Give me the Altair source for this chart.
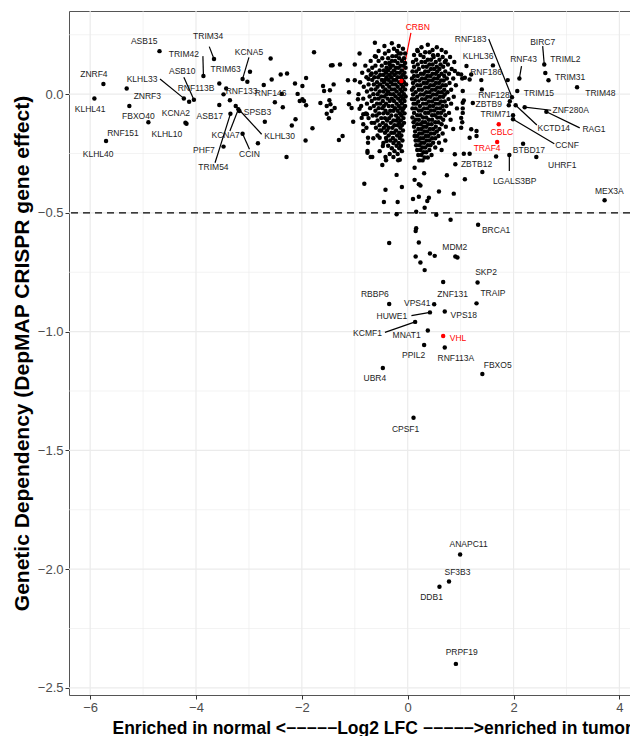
import altair as alt
import pandas as pd

# ---------------- data ----------------
GENE_NAMES = [
    "ZNRF4", "KLHL41", "ZNRF3", "FBXO40", "RNF151",
    "KLHL40", "ASB15", "TRIM34", "TRIM42", "KCNA5",
    "TRIM63", "ASB10", "KLHL33", "RNF113B", "KCNA2",
    "KLHL10", "RNF133", "RNF146", "ASB17", "SPSB3",
    "KLHL30", "KCNA7", "PHF7", "TRIM54", "CCIN",
    "CRBN", "RNF183", "KLHL36", "RNF186", "RNF43",
    "BIRC7", "TRIML2", "TRIM31", "TRIM48", "TRIM15",
    "RNF128", "ZBTB9", "TRIM71", "KCTD14", "CCNF",
    "ZNF280A", "RAG1", "CBLC", "TRAF4", "BTBD17",
    "UHRF1", "LGALS3BP", "ZBTB12", "MEX3A", "BRCA1",
    "MDM2", "SKP2", "ZNF131", "TRAIP", "RBBP6",
    "VPS41", "VPS18", "HUWE1", "KCMF1", "MNAT1",
    "VHL", "PPIL2", "RNF113A", "FBXO5", "UBR4",
    "CPSF1", "ANAPC11", "SF3B3", "DDB1", "PRPF19",
]
GENE_X = [
    -5.75, -5.92, -5.31, -5.26, -4.90,
    -5.70, -4.69, -3.66, -3.86, -3.12,
    -2.98, -4.04, -4.23, -4.13, -4.18,
    -4.20, -3.43, -2.38, -3.56, -3.18,
    -3.25, -3.20, -3.48, -3.35, -3.12,
    -0.12, 1.97, 1.61, 1.39, 2.11,
    2.58, 2.60, 2.66, 3.20, 2.07,
    1.93, 1.91, 1.99, 2.04, 1.99,
    2.21, 2.62, 1.72, 1.69, 2.18,
    2.43, 1.92, 0.90, 3.72, 1.33,
    0.90, 1.32, 0.67, 1.30, -0.35,
    0.50, 0.70, 0.42, 0.14, 0.38,
    0.67, 0.31, 0.70, 1.41, -0.47,
    0.11, 0.99, 0.78, 0.60, 0.91,
]
GENE_Y = [
    0.043, -0.018, 0.024, -0.050, -0.118,
    -0.197, 0.181, 0.148, 0.076, 0.064,
    0.094, -0.024, -0.018, -0.032, -0.125,
    -0.120, 0.024, 0.001, -0.046, -0.071,
    -0.050, -0.064, -0.221, -0.083, -0.167,
    0.055, -0.013, 0.121, 0.059, 0.066,
    0.125, 0.089, 0.058, 0.029, 0.013,
    -0.030, -0.047, -0.089, -0.047, -0.106,
    -0.055, -0.074, -0.127, -0.202, -0.209,
    -0.265, -0.256, -0.295, -0.447, -0.550,
    -0.684, -0.793, -0.791, -0.881, -0.884,
    -0.885, -0.915, -0.919, -0.959, -0.995,
    -1.018, -1.056, -1.067, -1.178, -1.153,
    -1.363, -1.938, -2.052, -2.074, -2.399,
]
LABEL_X = [
    -5.93, -6.00, -4.92, -5.09, -5.38,
    -5.85, -4.98, -3.77, -4.23, -3.00,
    -3.44, -4.26, -5.02, -4.00, -4.38,
    -4.55, -3.14, -2.59, -3.74, -2.84,
    -2.42, -3.44, -3.85, -3.67, -2.99,
    0.19, 1.19, 1.33, 1.48, 2.19,
    2.55, 2.98, 3.07, 3.64, 2.48,
    1.63, 1.53, 1.66, 2.76, 3.01,
    3.08, 3.52, 1.78, 1.50, 2.29,
    2.92, 2.02, 1.30, 3.81, 1.67,
    0.89, 1.48, 0.85, 1.61, -0.62,
    0.18, 1.06, -0.30, -0.76, -0.02,
    0.95, 0.11, 0.91, 1.70, -0.62,
    -0.04, 1.15, 0.94, 0.45, 1.02,
]
LABEL_Y = [
    0.084, -0.063, -0.008, -0.092, -0.163,
    -0.251, 0.223, 0.244, 0.171, 0.178,
    0.104, 0.097, 0.064, 0.024, -0.079,
    -0.169, 0.013, 0.005, -0.092, -0.076,
    -0.175, -0.172, -0.235, -0.305, -0.253,
    0.282, 0.232, 0.160, 0.092, 0.150,
    0.220, 0.150, 0.074, 0.005, 0.003,
    -0.004, -0.043, -0.085, -0.142, -0.216,
    -0.068, -0.146, -0.158, -0.226, -0.235,
    -0.298, -0.366, -0.295, -0.408, -0.573,
    -0.643, -0.751, -0.842, -0.837, -0.842,
    -0.881, -0.930, -0.933, -1.006, -1.013,
    -1.027, -1.100, -1.112, -1.140, -1.196,
    -1.409, -1.896, -2.011, -2.116, -2.349,
]
RED_GENES = ["CRBN", "CBLC", "TRAF4", "VHL"]

# label connector segments: start point (near label) -> gene point
SEG_GENES = ["TRIM34", "TRIM42", "KCNA5", "ASB10", "KLHL33", "KLHL30", "KCNA7",
             "TRIM54", "CCIN", "CRBN", "RNF183", "RNF43", "BIRC7", "KCTD14",
             "CCNF", "ZNF280A", "RAG1", "LGALS3BP", "HUWE1", "KCMF1"]
SEG_X = [-3.75, -3.87, -3.00, -4.23, -4.68, -2.76, -3.36,
         -3.64, -2.99, 0.06, 1.53, 2.15, 2.55, 2.44,
         2.77, 2.71, 3.25, 1.92, 0.07, -0.43]
SEG_Y = [0.200, 0.160, 0.155, 0.071, 0.064, -0.169, -0.155,
         -0.289, -0.232, 0.258, 0.232, 0.118, 0.202, -0.130,
         -0.209, -0.068, -0.142, -0.324, -0.933, -1.003]

# unlabelled scattered genes (x, y)
SCATTER_POINTS = [
    (-2.59, 0.150), (-1.77, 0.176), (-1.45, 0.121), (-1.28, 0.125), (-1.00, 0.125),
    (-0.91, 0.171), (-0.60, 0.157), (-0.62, 0.216), (-2.40, 0.083), (-2.28, 0.087),
    (-1.92, 0.068), (-2.13, 0.045), (-1.99, 0.034), (-1.60, 0.034), (-1.40, 0.041),
    (-1.13, 0.058), (-1.47, 0.016), (-1.58, 0.013), (-2.08, 0.001), (-1.99, -0.022),
    (-1.96, -0.029), (-2.04, -0.029), (-1.92, -0.047), (-1.65, -0.037), (-1.48, -0.026),
    (-1.46, -0.043), (-1.53, -0.050), (-1.38, -0.058), (-1.44, -0.071), (-1.53, -0.083),
    (-1.49, -0.102), (-1.11, 0.008), (-1.11, -0.043), (-1.06, -0.058), (-0.94, -0.022),
    (-0.91, -0.062), (-0.84, -0.085), (-1.03, -0.116), (-0.77, -0.085), (-0.84, -0.127),
    (-0.78, -0.142), (-0.75, -0.184), (-0.75, -0.205), (-0.65, -0.186), (-0.76, -0.239),
    (-0.70, -0.265), (-1.80, -0.144), (-1.93, -0.195), (-2.19, -0.132), (-2.12, -0.106),
    (-1.30, -0.193), (-1.23, -0.176), (-2.29, -0.265), (-2.51, -0.034), (-2.36, -0.055),
    (-2.70, -0.116), (-2.57, 0.062), (-2.72, 0.038), (-2.83, -0.207), (-3.56, 0.045),
    (-3.48, -0.001), (-3.36, -0.026), (-3.03, 0.052), (-1.42, 0.122), (-1.00, 0.058),
    (-0.68, 0.087), (-0.74, 0.064), (-0.87, -0.100), (-0.84, -0.155), (-0.68, -0.121),
    (-0.53, -0.153), (-0.53, -0.184), (-0.40, -0.197), (-0.47, -0.218), (-0.34, 0.125),
    (-0.17, 0.171), (-0.82, -0.377), (-0.42, -0.403), (-0.11, -0.391), (-0.45, -0.454),
    (-0.19, -0.454), (-0.21, -0.340), (-0.48, -0.298), (-0.15, -0.276), (-0.42, -0.265),
    (-0.67, -0.265), (-0.76, -0.247), (-0.21, -0.506), (-0.35, -0.627), (0.13, -0.310),
    (0.31, -0.333), (0.13, -0.361), (0.21, -0.379), (0.24, -0.385), (0.59, -0.410),
    (0.87, -0.419), (0.21, -0.432), (0.10, -0.442), (0.40, -0.436), (0.37, -0.450),
    (0.32, -0.478), (0.74, -0.342), (1.08, -0.358), (1.41, -0.328), (0.89, -0.253),
    (1.06, -0.251), (1.17, -0.251), (1.67, -0.263), (0.16, -0.495), (0.54, -0.508),
    (0.81, -0.529), (0.15, -0.576), (0.16, -0.565), (0.21, -0.625), (0.15, -0.684),
    (0.42, -0.671), (0.51, -0.681), (0.24, -0.709), (0.32, -0.741), (0.94, -0.688),
    (0.19, 0.181), (0.48, 0.164), (0.72, 0.142), (0.89, 0.097), (1.01, 0.083),
    (1.08, 0.069), (1.20, 0.083), (1.17, 0.062), (1.04, 0.013), (1.04, -0.036),
    (1.04, -0.060), (1.01, -0.100), (1.01, -0.142), (1.20, -0.148), (1.30, -0.155),
    (1.11, 0.118), (1.03, 0.066), (1.40, 0.020), (1.23, -0.037), (1.04, -0.079),
    (1.03, -0.118), (1.17, -0.184), (1.30, -0.176), (1.89, 0.059), (1.06, -0.027),
]

# dense cores of near-zero genes: rows of (y, [x values])
LEFT_CORE_ROWS = [
    (0.214, [-0.30]),
    (0.203, [-0.44, -0.17]),
    (0.191, [-0.26, -0.09]),
    (0.182, [-0.55, -0.36, -0.20]),
    (0.171, [-0.43, -0.13, -0.05]),
    (0.160, [-0.62, -0.29, -0.22]),
    (0.151, [-0.48, -0.37, -0.16, -0.07]),
    (0.140, [-0.70, -0.55, -0.30, -0.24, -0.11]),
    (0.131, [-0.42, -0.35, -0.19, -0.05]),
    (0.120, [-0.80, -0.61, -0.49, -0.28, -0.13, -0.08]),
    (0.111, [-0.67, -0.40, -0.33, -0.22, -0.17, -0.04]),
    (0.100, [-0.74, -0.53, -0.45, -0.37, -0.26, -0.11]),
    (0.090, [-0.86, -0.60, -0.41, -0.30, -0.21, -0.15, -0.06]),
    (0.081, [-0.70, -0.52, -0.46, -0.35, -0.25, -0.09]),
    (0.071, [-0.78, -0.63, -0.56, -0.40, -0.31, -0.19, -0.13, -0.04]),
    (0.060, [-0.67, -0.49, -0.43, -0.36, -0.27, -0.22, -0.10]),
    (0.050, [-0.90, -0.58, -0.45, -0.32, -0.16, -0.07]),
    (0.041, [-0.74, -0.64, -0.52, -0.39, -0.28, -0.23, -0.12, -0.03]),
    (0.031, [-0.83, -0.57, -0.47, -0.35, -0.19, -0.09]),
    (0.020, [-0.69, -0.61, -0.42, -0.30, -0.25, -0.14, -0.05]),
    (0.011, [-0.77, -0.53, -0.46, -0.37, -0.21, -0.11]),
    (0.000, [-0.93, -0.65, -0.57, -0.40, -0.33, -0.27, -0.16, -0.07]),
    (-0.010, [-0.72, -0.50, -0.44, -0.23, -0.12, -0.04]),
    (-0.019, [-0.84, -0.62, -0.55, -0.38, -0.30, -0.18, -0.09]),
    (-0.029, [-0.68, -0.47, -0.34, -0.26, -0.14, -0.06]),
    (-0.040, [-0.77, -0.58, -0.52, -0.41, -0.21, -0.11]),
    (-0.050, [-0.88, -0.64, -0.45, -0.36, -0.29, -0.17, -0.05]),
    (-0.059, [-0.71, -0.55, -0.48, -0.24, -0.13, -0.08]),
    (-0.070, [-0.61, -0.42, -0.33, -0.27, -0.19, -0.10]),
    (-0.081, [-0.79, -0.54, -0.46, -0.38, -0.15, -0.06]),
    (-0.090, [-0.66, -0.59, -0.31, -0.22, -0.12]),
    (-0.101, [-0.74, -0.50, -0.43, -0.35, -0.18, -0.08]),
    (-0.111, [-0.57, -0.39, -0.27, -0.21, -0.13]),
    (-0.121, [-0.63, -0.47, -0.32, -0.16, -0.07]),
    (-0.131, [-0.53, -0.41, -0.25, -0.19, -0.11]),
    (-0.142, [-0.60, -0.45, -0.36, -0.29, -0.14]),
    (-0.153, [-0.50, -0.39, -0.22, -0.09]),
    (-0.163, [-0.43, -0.31, -0.26, -0.16]),
    (-0.174, [-0.57, -0.36, -0.20, -0.12]),
    (-0.185, [-0.41, -0.28, -0.15]),
    (-0.195, [-0.33, -0.23, -0.10]),
    (-0.206, [-0.46, -0.27, -0.17]),
    (-0.217, [-0.37, -0.21, -0.13]),
    (-0.228, [-0.30, -0.16]),
    (-0.240, [-0.53, -0.25, -0.11]),
    (-0.252, [-0.34, -0.19]),
    (-0.265, [-0.27]),
    (-0.278, [-0.41, -0.18]),
]
RIGHT_CORE_ROWS = [
    (0.208, [0.38]),
    (0.197, [0.26, 0.55]),
    (0.186, [0.18, 0.47, 0.64]),
    (0.176, [0.33, 0.41, 0.72]),
    (0.165, [0.12, 0.24, 0.57]),
    (0.156, [0.30, 0.49, 0.66, 0.80]),
    (0.145, [0.16, 0.38, 0.44, 0.60]),
    (0.135, [0.10, 0.26, 0.33, 0.53, 0.70, 0.88]),
    (0.125, [0.19, 0.41, 0.47, 0.62, 0.76]),
    (0.115, [0.12, 0.29, 0.36, 0.55, 0.67]),
    (0.106, [0.21, 0.44, 0.50, 0.60, 0.83]),
    (0.095, [0.09, 0.16, 0.33, 0.39, 0.56, 0.71]),
    (0.086, [0.25, 0.30, 0.47, 0.53, 0.64, 0.78, 0.95]),
    (0.076, [0.12, 0.19, 0.37, 0.43, 0.59, 0.69]),
    (0.066, [0.08, 0.27, 0.33, 0.50, 0.56, 0.74, 0.86]),
    (0.057, [0.15, 0.22, 0.40, 0.46, 0.63, 0.68]),
    (0.047, [0.10, 0.30, 0.36, 0.53, 0.59, 0.79]),
    (0.037, [0.18, 0.24, 0.43, 0.49, 0.66, 0.72, 0.91]),
    (0.028, [0.11, 0.33, 0.39, 0.56, 0.61]),
    (0.018, [0.08, 0.21, 0.27, 0.46, 0.52, 0.69, 0.82]),
    (0.008, [0.15, 0.35, 0.41, 0.58, 0.64, 0.75]),
    (-0.002, [0.10, 0.24, 0.30, 0.48, 0.54, 0.70]),
    (-0.011, [0.18, 0.37, 0.43, 0.61, 0.67, 0.87]),
    (-0.021, [0.08, 0.13, 0.27, 0.33, 0.51, 0.56, 0.77]),
    (-0.031, [0.20, 0.40, 0.46, 0.63, 0.70]),
    (-0.040, [0.11, 0.16, 0.29, 0.35, 0.53, 0.59, 0.82]),
    (-0.050, [0.23, 0.42, 0.48, 0.66, 0.73]),
    (-0.060, [0.09, 0.15, 0.31, 0.37, 0.55, 0.61, 0.93]),
    (-0.069, [0.21, 0.26, 0.44, 0.50, 0.68]),
    (-0.079, [0.12, 0.33, 0.39, 0.57, 0.63, 0.78]),
    (-0.089, [0.18, 0.24, 0.46, 0.51, 0.71]),
    (-0.098, [0.09, 0.29, 0.35, 0.56, 0.62]),
    (-0.108, [0.15, 0.21, 0.40, 0.46, 0.67, 0.81]),
    (-0.118, [0.11, 0.28, 0.33, 0.52, 0.58]),
    (-0.127, [0.18, 0.24, 0.39, 0.45, 0.64]),
    (-0.137, [0.12, 0.30, 0.35, 0.53, 0.72]),
    (-0.147, [0.20, 0.26, 0.42, 0.48, 0.60, 0.86]),
    (-0.157, [0.14, 0.32, 0.37, 0.55]),
    (-0.166, [0.22, 0.27, 0.44, 0.50, 0.66]),
    (-0.176, [0.13, 0.18, 0.34, 0.39, 0.58]),
    (-0.186, [0.24, 0.29, 0.46, 0.52]),
    (-0.195, [0.15, 0.20, 0.36, 0.41, 0.71]),
    (-0.205, [0.26, 0.31, 0.48, 0.59]),
    (-0.215, [0.16, 0.22, 0.38, 0.43]),
    (-0.225, [0.28, 0.33, 0.52]),
    (-0.235, [0.18, 0.24, 0.41, 0.64]),
    (-0.245, [0.30, 0.35]),
    (-0.256, [0.20, 0.26, 0.45]),
    (-0.267, [0.32, 0.38]),
    (-0.279, [0.22, 0.28]),
]

X_MAJOR = [-6, -4, -2, 0, 2, 4]
X_MINOR = [-5, -3, -1, 1, 3]
Y_MAJOR = [0.0, -0.5, -1.0, -1.5, -2.0, -2.5]
Y_MINOR = [0.25, -0.25, -0.75, -1.25, -1.75, -2.25]
THRESHOLD = [-0.5]

X_TITLE = "Enriched in normal <\u2212\u2212\u2212\u2212\u2212Log2 LFC  \u2212\u2212\u2212\u2212\u2212>enriched in tumor"
Y_TITLE = "Genetic Dependency (DepMAP CRISPR gene effect)"

# ---------------- tables ----------------
rows = []
for y, xs in LEFT_CORE_ROWS + RIGHT_CORE_ROWS:
    for x in xs:
        rows.append({"x": x, "y": y})
for x, y in SCATTER_POINTS:
    rows.append({"x": x, "y": y})
for g, x, y in zip(GENE_NAMES, GENE_X, GENE_Y):
    if g not in RED_GENES:
        rows.append({"x": x, "y": y})
black_pts = pd.DataFrame(rows)
red_pts = pd.DataFrame([{"x": x, "y": y} for g, x, y in zip(GENE_NAMES, GENE_X, GENE_Y)
                        if g in RED_GENES])

labels = pd.DataFrame({"gene": GENE_NAMES, "x": LABEL_X, "y": LABEL_Y})
black_lab = labels[~labels.gene.isin(RED_GENES)]
red_lab = labels[labels.gene.isin(RED_GENES)]

gpos = {g: (x, y) for g, x, y in zip(GENE_NAMES, GENE_X, GENE_Y)}
segs = pd.DataFrame({
    "gene": SEG_GENES,
    "x": SEG_X,
    "y": SEG_Y,
    "x2": [gpos[g][0] for g in SEG_GENES],
    "y2": [gpos[g][1] for g in SEG_GENES],
})
black_seg = segs[~segs.gene.isin(RED_GENES)]
red_seg = segs[segs.gene.isin(RED_GENES)]

FONT = "Liberation Sans"
RED = "#ff0000"
XS = alt.Scale(domain=[-6.4, 4.2], nice=False, zero=False)
YS = alt.Scale(domain=[-2.53, 0.35], nice=False, zero=False)
XAX = alt.Axis(values=X_MAJOR, format="d", grid=False, domain=False,
               tickSize=4, tickColor="#333333", tickWidth=1,
               labelColor="#4d4d4d", labelFontSize=13, labelFont=FONT, labelPadding=2,
               title=X_TITLE, titleFont=FONT, titleFontSize=17.5, titleFontWeight="bold",
               titleColor="black", titleX=43, titleY=38, titleAlign="left",
               titleBaseline="alphabetic")
YAX = alt.Axis(values=Y_MAJOR, format=".1f", grid=False, domain=False,
               tickSize=4, tickColor="#333333", tickWidth=1,
               labelColor="#4d4d4d", labelFontSize=13, labelFont=FONT, labelPadding=2,
               title=Y_TITLE, titleFont=FONT, titleFontSize=21, titleFontWeight="bold",
               titleColor="black", titleX=-47, titleY=342, titleAngle=270,
               titleAlign="center", titleBaseline="middle")


def X():
    return alt.X("x:Q", scale=XS, axis=XAX)


def Y():
    return alt.Y("y:Q", scale=YS, axis=YAX)


vmin = alt.Chart(pd.DataFrame({"x": X_MINOR})).mark_rule(color="#ebebeb", strokeWidth=0.6).encode(x=X())
hmin = alt.Chart(pd.DataFrame({"y": Y_MINOR})).mark_rule(color="#ebebeb", strokeWidth=0.6).encode(y=Y())
vmaj = alt.Chart(pd.DataFrame({"x": X_MAJOR})).mark_rule(color="#ebebeb", strokeWidth=1.2).encode(x=X())
hmaj = alt.Chart(pd.DataFrame({"y": Y_MAJOR})).mark_rule(color="#ebebeb", strokeWidth=1.2).encode(y=Y())
thr = alt.Chart(pd.DataFrame({"y": THRESHOLD})).mark_rule(
    color="black", strokeWidth=1.3, strokeDash=[7, 5]).encode(y=Y())

seg_b = alt.Chart(black_seg).mark_rule(strokeWidth=1.2, color="black").encode(
    x=X(), y=Y(), x2="x2:Q", y2="y2:Q")
seg_r = alt.Chart(red_seg).mark_rule(strokeWidth=1.2, color=RED).encode(
    x=X(), y=Y(), x2="x2:Q", y2="y2:Q")

pt_b = alt.Chart(black_pts).mark_circle(size=20, opacity=1, color="black").encode(x=X(), y=Y())
pt_r = alt.Chart(red_pts).mark_circle(size=20, opacity=1, color=RED).encode(x=X(), y=Y())

txt_b = alt.Chart(black_lab).mark_text(font=FONT, fontSize=8.5, align="center",
                                       baseline="middle", color="#1a1a1a", opacity=0.99).encode(
    x=X(), y=Y(), text="gene:N")
txt_r = alt.Chart(red_lab).mark_text(font=FONT, fontSize=8.5, align="center",
                                     baseline="middle", color=RED, opacity=0.99).encode(
    x=X(), y=Y(), text="gene:N")

chart = alt.layer(vmin, hmin, vmaj, hmaj, thr, seg_b, seg_r, pt_b, pt_r, txt_b, txt_r).properties(
    width=561, height=684,
    autosize=alt.AutoSizeParams(type="none"),
    padding={"left": 61, "top": 3, "right": 0, "bottom": 41},
).configure_view(stroke="#555555", strokeWidth=1)

chart.save("out.html", embed_options={"renderer": "svg", "actions": False})
